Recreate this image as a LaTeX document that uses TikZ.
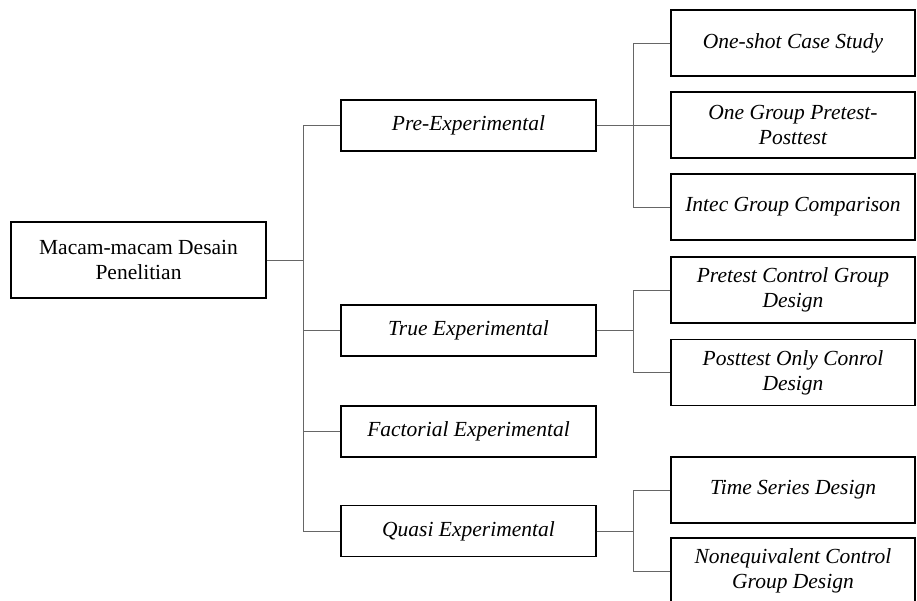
\documentclass[tikz,border=0pt]{standalone}
\usepackage{fontspec}
\setmainfont{Liberation Serif}
\usetikzlibrary{arrows,shapes}

\begin{document}
\begin{tikzpicture}[x=1pt,y=-1pt,
every node/.style={rectangle,draw,line width=1.4pt,align=center,inner sep=0pt,
font=\fontsize{21.5}{25}\selectfont},
lvltwo/.style={minimum width=255pt,minimum height=51pt,font=\fontsize{21.5}{25}\selectfont\itshape},
lvlthree/.style={minimum width=244pt,minimum height=66pt,font=\fontsize{21.5}{25}\selectfont\itshape},
link/.style={draw=black!60,line width=0.8pt}]
\useasboundingbox (0,0) rectangle (917,601);

\node[minimum width=255pt,minimum height=76pt] (root) at (138.5, 260) {Macam-macam Desain\\Penelitian};

\node[lvltwo] (pre) at (468.5, 125.5) {Pre-Experimental};
\node[lvltwo] (true) at (468.5, 330.5) {True Experimental};
\node[lvltwo] (fact) at (468.5, 431.5) {Factorial Experimental};
\node[lvltwo] (quasi) at (468.5, 531) {Quasi Experimental};

\node[lvlthree] (oneshot) at (793, 43) {One-shot Case Study};
\node[lvlthree] (onegroup) at (793, 125) {One Group Pretest-\\Posttest};
\node[lvlthree] (intec) at (793, 207) {Intec Group Comparison};
\node[lvlthree] (pretest) at (793, 290) {Pretest Control Group\\Design};
\node[lvlthree] (posttest) at (793, 372.5) {Posttest Only Conrol\\Design};
\node[lvlthree] (timeser) at (793, 490) {Time Series Design};
\node[lvlthree] (noneq) at (793, 571) {Nonequivalent Control\\Group Design};

\coordinate (trunk) at (303, 0);
\coordinate (fork) at (633, 0);

% trunk
\draw[link] (root.east) -- (root.east -| trunk);
\draw[link] (pre.west) -| (trunk |- quasi.west) -- (quasi.west);
\draw[link] (true.west) -- (true.west -| trunk);
\draw[link] (fact.west) -- (fact.west -| trunk);

% branches
\draw[link] (pre.east) -- (pre.east -| fork);
\draw[link] (oneshot.west) -| (fork |- intec.west) -- (intec.west);
\draw[link] (onegroup.west) -- (onegroup.west -| fork);
\draw[link] (true.east) -- (true.east -| fork);
\draw[link] (pretest.west) -| (fork |- posttest.west) -- (posttest.west);
\draw[link] (quasi.east) -- (quasi.east -| fork);
\draw[link] (timeser.west) -| (fork |- noneq.west) -- (noneq.west);
\end{tikzpicture}
\end{document}
